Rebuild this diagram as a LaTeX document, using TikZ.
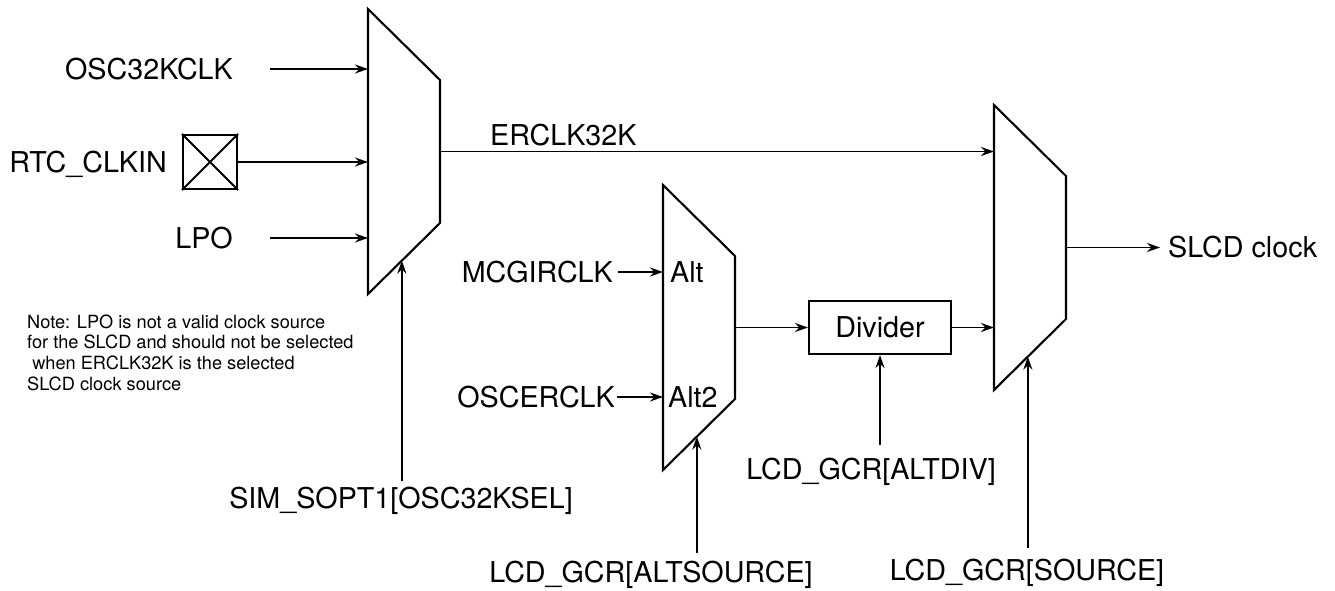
\documentclass[tikz,border=0pt]{standalone}
\usepackage{fontspec}
\setmainfont{TeX Gyre Heros}
\usetikzlibrary{arrows.meta,calc}
\tikzset{
  wire/.style={line width=1.8pt},
  muxedge/.style={line width=2.1pt, line join=miter},
  sig/.style={wire, -{Stealth[length=13pt,width=9pt]}},
  lbl/.style={inner sep=0pt, font=\fontsize{28.7}{34}\selectfont},
  notetext/.style={inner sep=0pt, align=left, font=\fontsize{18.2}{20.7}\selectfont},
}
\begin{document}
\begin{tikzpicture}[x=1pt,y=-1pt]
    \useasboundingbox (0,0) rectangle (1335,591);
    \foreach \m/\x/\y in {muxa/368/9, muxb/663/185, muxc/994/105} {
        \draw[muxedge] (\x,\y) coordinate (\m-tl) -- ++(72,71) coordinate (\m-tr)
            -- ++(0,143) coordinate (\m-br) -- ++(-72,71) coordinate (\m-bl) -- cycle;
        \coordinate (\m-out) at ($(\m-tr)!0.5!(\m-br)$);
        \coordinate (\m-sel) at ($(\m-br)!0.53!(\m-bl)$);
    }
    \node[lbl, anchor=base east] (osc) at (233,80) {OSC32KCLK};
    \node[lbl, anchor=base east] (rtc) at (167,172) {RTC\_CLKIN};
    \node[lbl, anchor=base east] (lpo) at (233,248) {LPO};
    \node[muxedge, draw, minimum size=54pt, inner sep=0pt] (pad) at (210,162) {};
    \draw[wire] (pad.north west) -- (pad.south east);
    \draw[wire] (pad.south west) -- (pad.north east);
    \coordinate (oscin) at (270,69);
    \coordinate (lpoin) at (270,238);
    \draw[sig] (oscin) -- (oscin -| muxa-tl);
    \draw[sig] (pad.east) -- (pad.east -| muxa-tl);
    \draw[sig] (lpoin) -- (lpoin -| muxa-tl);
    \draw[sig] (muxa-out) -- (muxa-out -| muxc-tl);
    \node[lbl, anchor=base west] (erclk) at (490,146) {ERCLK32K};
    \node[notetext, anchor=north west] (note) at (27,314.5) {Note: LPO is not a valid clock source\\
        for the SLCD and should not be selected\\
        \hspace*{0.28em}when ERCLK32K is the selected\\
        SLCD clock source};
    \node[lbl, anchor=base east] (mcg) at (613,282) {MCGIRCLK};
    \node[lbl, anchor=base east] (oscer) at (615,407) {OSCERCLK};
    \node[lbl, anchor=base west] (alt) at (670,282) {Alt};
    \node[lbl, anchor=base west] (alttwo) at (668,407) {Alt2};
    \coordinate (mcgin) at (618,272);
    \coordinate (oscerin) at (617,397);
    \draw[sig] (mcgin) -- (mcgin -| muxb-tl);
    \draw[sig] (oscerin) -- (oscerin -| muxb-tl);
    \node[muxedge, draw, minimum width=142pt, minimum height=53pt, font=\fontsize{28.7}{34}\selectfont] (div) at (880,327.5) {Divider};
    \draw[sig] (muxb-out) -- (muxb-out -| div.west);
    \draw[sig] (div.east) -- (div.east -| muxc-tl);
    \node[lbl, anchor=base west] (clk) at (1168,257.5) {SLCD clock};
    \draw[sig, shorten >=8pt] (muxc-out) -- (muxc-out -| clk.west);
    \node[lbl, anchor=base] (sim) at (401,508) {SIM\_SOPT1[OSC32KSEL]};
    \node[lbl, anchor=base] (altsrc) at (651,582) {LCD\_GCR[ALTSOURCE]};
    \node[lbl, anchor=base] (altdiv) at (871,479) {LCD\_GCR[ALTDIV]};
    \node[lbl, anchor=base] (src) at (1027,580) {LCD\_GCR[SOURCE]};
    \draw[sig, shorten <=5pt] (muxa-sel |- sim.north) -- (muxa-sel);
    \draw[sig, shorten <=7pt] (muxb-sel |- altsrc.north) -- (muxb-sel);
    \draw[sig, shorten <=12pt] (div.south |- altdiv.north) -- (div.south);
    \draw[sig, shorten <=10pt] (muxc-sel |- src.north) -- (muxc-sel);
\end{tikzpicture}
\end{document}
